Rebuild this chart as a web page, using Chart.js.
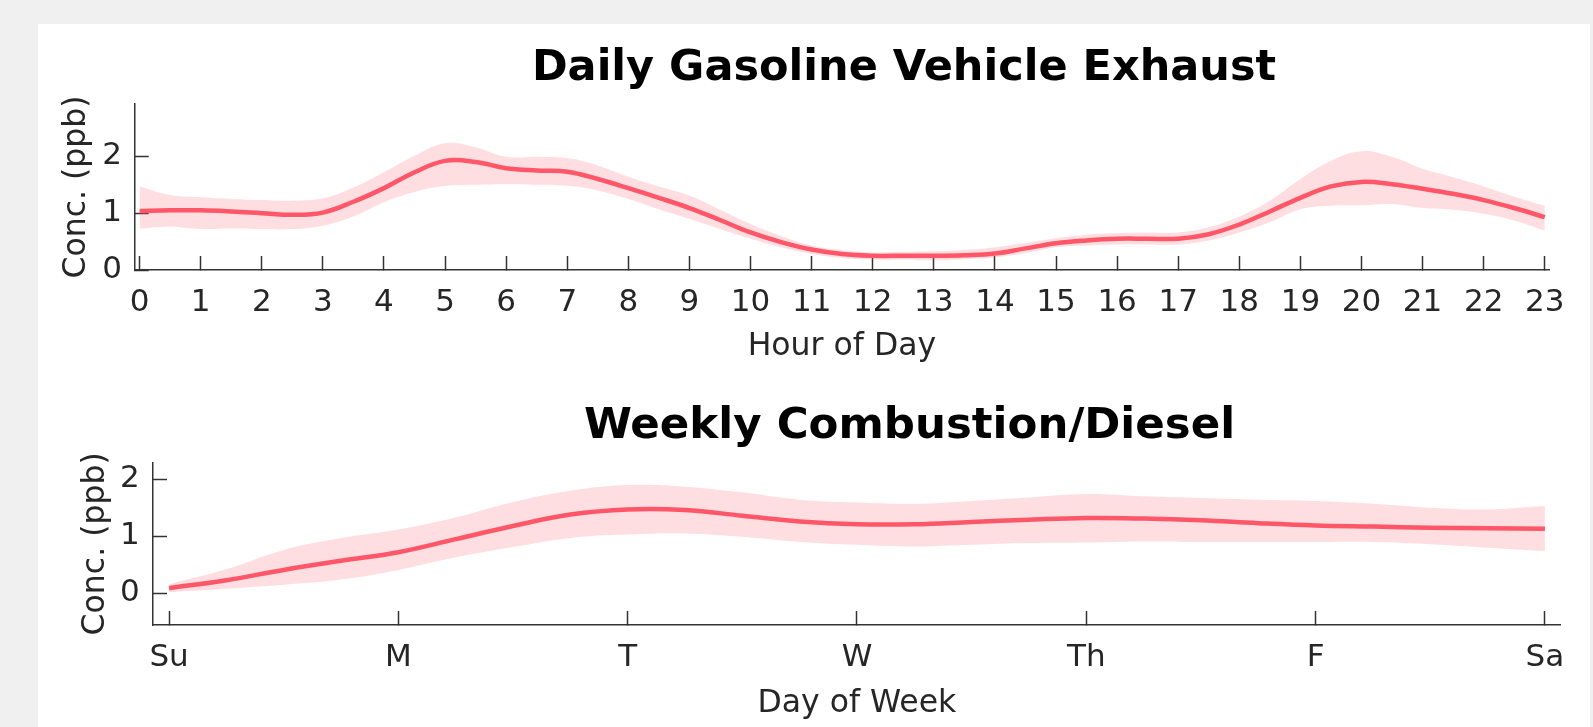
<!DOCTYPE html>
<html>
<head>
<meta charset="utf-8">
<script src="https://cdn.jsdelivr.net/npm/chart.js@4.4.1/dist/chart.umd.min.js"></script>
<style>
  html, body { margin: 0; padding: 0; background: #f0f0f0; overflow: hidden; width: 1593px; height: 727px; }
  #panel { position: absolute; left: 38px; top: 24px; width: 1552px; height: 703px; background: #ffffff; }
  canvas { position: absolute; left: 0; }
  #c1 { top: 0; }
  #c2 { top: 370px; }
</style>
</head>
<body>
<div id="panel"></div>
<canvas id="c1" width="1593" height="370"></canvas>
<canvas id="c2" width="1593" height="357"></canvas>
<script>
// ---- Daily gasoline vehicle exhaust (hour of day) ----
const hours = [0,0.5,1,1.5,2,2.5,3,3.5,4,4.5,5,5.5,6,6.5,7,7.5,8,8.5,9,9.5,10,10.5,11,11.5,12,12.5,13,13.5,14,14.5,15,15.5,16,16.5,17,17.5,18,18.5,19,19.5,20,20.5,21,21.5,22,22.5,23];
const gasMean  = [1.04,1.05,1.05,1.03,1.00,0.97,1.01,1.20,1.44,1.72,1.92,1.90,1.79,1.75,1.73,1.60,1.44,1.27,1.09,0.88,0.66,0.49,0.36,0.28,0.25,0.25,0.25,0.26,0.29,0.38,0.47,0.52,0.55,0.55,0.55,0.63,0.80,1.03,1.27,1.47,1.55,1.51,1.43,1.34,1.23,1.09,0.93];
const gasUpper = [1.47,1.32,1.28,1.25,1.23,1.22,1.26,1.45,1.72,2.01,2.23,2.16,1.99,1.99,1.97,1.84,1.64,1.47,1.31,1.06,0.81,0.60,0.43,0.35,0.31,0.32,0.33,0.35,0.40,0.48,0.56,0.62,0.65,0.66,0.66,0.75,0.94,1.22,1.60,1.92,2.09,1.99,1.78,1.63,1.47,1.29,1.13];
const gasLower = [0.73,0.76,0.72,0.73,0.72,0.72,0.78,0.94,1.19,1.37,1.48,1.50,1.51,1.50,1.48,1.40,1.25,1.07,0.90,0.72,0.55,0.40,0.28,0.21,0.18,0.18,0.17,0.19,0.22,0.30,0.40,0.43,0.45,0.45,0.45,0.52,0.66,0.84,1.07,1.13,1.14,1.16,1.09,1.06,0.99,0.87,0.69];
const hourTicks = [0,1,2,3,4,5,6,7,8,9,10,11,12,13,14,15,16,17,18,19,20,21,22,23];
const gasYTicks = [0,1,2];

// ---- Weekly combustion / diesel (day of week) ----
const days = [0,0.25,0.5,0.75,1,1.25,1.5,1.75,2,2.25,2.5,2.75,3,3.25,3.5,3.75,4,4.25,4.5,4.75,5,5.25,5.5,5.75,6];
const dieselMean  = [0.09,0.23,0.41,0.57,0.72,0.95,1.18,1.38,1.47,1.46,1.36,1.26,1.21,1.21,1.25,1.29,1.32,1.31,1.28,1.23,1.19,1.17,1.15,1.14,1.13];
const dieselUpper = [0.16,0.42,0.76,0.97,1.12,1.33,1.60,1.80,1.90,1.87,1.77,1.64,1.59,1.57,1.62,1.68,1.74,1.70,1.67,1.64,1.62,1.57,1.50,1.47,1.53];
const dieselLower = [0.02,0.08,0.15,0.24,0.41,0.63,0.81,0.97,1.03,1.05,0.99,0.90,0.85,0.82,0.85,0.88,0.89,0.91,0.90,0.90,0.90,0.90,0.86,0.80,0.74];
const dayTicks = [0,1,2,3,4,5,6];
const dayLabels = ['Su','M','T','W','Th','F','Sa'];
const dieselYTicks = [0,1,2];

const LINE = 'rgb(255,86,104)';
const BAND = 'rgba(255,90,110,0.2)';
const AXIS = '#333333';
const TXT = '#262626';
const FONT = 'DejaVu Sans';

const figTitle = {
  id: 'figTitle',
  afterDraw(chart, args, opts) {
    const ctx = chart.ctx;
    ctx.save();
    ctx.font = 'bold ' + opts.size + 'px "' + FONT + '"';
    ctx.fillStyle = '#000000';
    ctx.textAlign = 'center';
    ctx.textBaseline = 'alphabetic';
    ctx.fillText(opts.text, opts.x, opts.y);
    ctx.restore();
  }
};

function pts(xs, ys) { return xs.map((x, i) => ({x: x, y: ys[i]})); }

function makeChart(id, cfg) {
  return new Chart(document.getElementById(id), {
    type: 'line',
    data: {
      datasets: [
        { data: pts(cfg.x, cfg.mean), borderColor: LINE, borderWidth: 4.5, pointRadius: 0, fill: false, tension: 0.4 },
        { data: pts(cfg.x, cfg.upper), borderWidth: 0, borderColor: 'rgba(0,0,0,0)', pointRadius: 0, backgroundColor: BAND, fill: '+1', tension: 0.4 },
        { data: pts(cfg.x, cfg.lower), borderWidth: 0, borderColor: 'rgba(0,0,0,0)', pointRadius: 0, fill: false, tension: 0.4 }
      ]
    },
    options: {
      responsive: false,
      animation: false,
      layout: { padding: cfg.padding },
      plugins: {
        legend: { display: false },
        tooltip: { enabled: false },
        title: { display: false },
        figTitle: cfg.title
      },
      scales: {
        x: {
          type: 'linear',
          min: cfg.xmin, max: cfg.xmax,
          afterBuildTicks: s => { s.ticks = cfg.xticks.map(v => ({value: v})); },
          afterFit: s => { s.height = cfg.xHeight; },
          ticks: {
            autoSkip: false, maxRotation: 0, minRotation: 0,
            padding: cfg.xPad, color: TXT,
            font: { family: FONT, size: 31 },
            callback: cfg.xcb
          },
          grid: { display: true, drawOnChartArea: false, drawTicks: true, tickLength: -14, tickColor: AXIS, tickWidth: 1.5 },
          border: { display: true, color: AXIS, width: 1.5 },
          title: { display: true, text: cfg.xTitle, color: TXT, font: { family: FONT, size: 31.5 }, padding: { top: 0, bottom: 4 } }
        },
        y: {
          type: 'linear',
          min: cfg.ymin, max: cfg.ymax,
          afterBuildTicks: s => { s.ticks = cfg.yticks.map(v => ({value: v})); },
          afterFit: s => { s.width = 100; },
          ticks: { padding: cfg.yPad, color: TXT, font: { family: FONT, size: 31 } },
          grid: { display: true, drawOnChartArea: false, drawTicks: true, tickLength: -14, tickColor: AXIS, tickWidth: 1.5 },
          border: { display: true, color: AXIS, width: 1.5 },
          title: { display: true, text: 'Conc. (ppb)', color: TXT, font: { family: FONT, size: 31.5 }, padding: { top: cfg.yTitlePad, bottom: 0 } }
        }
      }
    },
    plugins: [figTitle]
  });
}

makeChart('c1', {
  x: hours, mean: gasMean, upper: gasUpper, lower: gasLower,
  xmin: -0.08, xmax: 23.07, ymin: 0, ymax: 2.92,
  xticks: hourTicks, yticks: gasYTicks,
  xcb: v => String(v),
  xTitle: 'Hour of Day',
  padding: { left: 34.7, right: 30.3, top: 104, bottom: 0 },
  xHeight: 100, xPad: 28.4, yPad: 26.7, yTitlePad: 22.9,
  title: { text: 'Daily Gasoline Vehicle Exhaust', x: 904, y: 80, size: 43 }
});

makeChart('c2', {
  x: days, mean: dieselMean, upper: dieselUpper, lower: dieselLower,
  xmin: -0.07, xmax: 6.069, ymin: -0.556, ymax: 2.29,
  xticks: dayTicks, yticks: dieselYTicks,
  xcb: v => dayLabels[v],
  xTitle: 'Day of Week',
  padding: { left: 53, right: 30.3, top: 92.7, bottom: 0 },
  xHeight: 102, xPad: 28.4, yPad: 27.3, yTitlePad: 23.6,
  title: { text: 'Weekly Combustion/Diesel', x: 909.5, y: 68, size: 43.5 }
});
</script>
</body>
</html>
